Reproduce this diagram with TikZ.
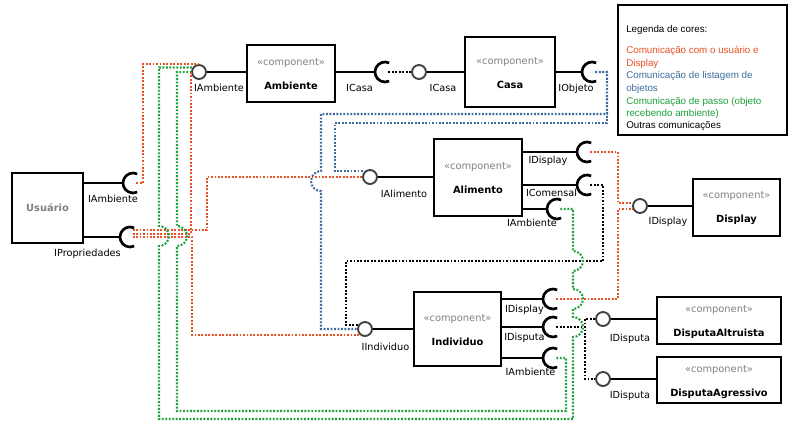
\documentclass[tikz,border=0pt]{standalone}
\usepackage{fontspec}
\setmainfont{DejaVu Sans}
\newfontfamily\legfont{Liberation Sans}
\definecolor{cred}{RGB}{232,80,36}
\definecolor{cblue}{RGB}{62,108,160}
\definecolor{cgreen}{RGB}{30,160,60}
\definecolor{cgray}{RGB}{128,128,128}
\definecolor{cring}{RGB}{64,64,64}
\newcommand\sockarc[1]{\draw[sock] ([shift={(65:7.5pt)}]#1) arc[start angle=65,end angle=295,radius=7.5pt];}
\begin{document}
\begin{tikzpicture}[x=0.75pt,y=-0.75pt,
 comp/.style={draw=black, line width=1.5pt, fill=white, inner sep=0pt},
 stereo/.style={text=cgray, font=\fontsize{7.4}{9}\selectfont, inner sep=0pt, anchor=base},
 cname/.style={font=\bfseries\fontsize{7.4}{9}\selectfont, inner sep=0pt, anchor=base},
 prov/.style={circle, draw=cring, line width=1.4pt, fill=white, minimum size=10.5pt, inner sep=0pt},
 lab/.style={font=\fontsize{7.3}{9}\selectfont, inner sep=0pt, anchor=base},
 stem/.style={line width=1.5pt},
 sock/.style={line width=2pt},
 dotl/.style={line width=1.6pt, dash pattern=on 1.4pt off 1.2pt},
 rdot/.style={dotl, draw=cred},
 bdot/.style={dotl, draw=cblue},
 gdot/.style={dotl, draw=cgreen},
 kdot/.style={dotl, draw=black},
 leg/.style={font=\legfont\fontsize{7.35}{9}\selectfont, inner sep=0pt, anchor=base west}
]
\fill[white] (0,0) rectangle (794,447);
\useasboundingbox (0,0) rectangle (794,447);

% components
\node[comp, minimum width=53.25pt, minimum height=52.5pt] (usr) at (47.5,208) {};
\node[cname, text=cgray] (usrname) at (47.5,211.5) {Usuário};

\node[comp, minimum width=66pt, minimum height=42.75pt] (amb) at (291,73.5) {};
\node[stereo] (ambs) at ([yshift=6pt]amb.center) {«component»};
\node[cname] (ambn) at ([yshift=-12pt]amb.center) {Ambiente};

\node[comp, minimum width=67.5pt, minimum height=52.5pt] (casa) at (510,72) {};
\node[stereo] (casas) at ([yshift=6pt]casa.center) {«component»};
\node[cname] (casan) at ([yshift=-12pt]casa.center) {Casa};

\node[comp, minimum width=66pt, minimum height=57.75pt] (ali) at (478,177.5) {};
\node[stereo] (alis) at ([yshift=6pt]ali.center) {«component»};
\node[cname] (alin) at ([yshift=-12pt]ali.center) {Alimento};

\node[comp, minimum width=65.25pt, minimum height=42.75pt] (disp) at (736.5,207.5) {};
\node[stereo] (disps) at ([yshift=6.5pt]disp.center) {«component»};
\node[cname] (dispn) at ([yshift=-11.5pt]disp.center) {Display};

\node[comp, minimum width=65.25pt, minimum height=55.5pt] (ind) at (457.5,329) {};
\node[stereo] (inds) at ([yshift=6pt]ind.center) {«component»};
\node[cname] (indn) at ([yshift=-12pt]ind.center) {Individuo};

\node[comp, minimum width=93pt, minimum height=35.25pt] (alt) at (719,320.5) {};
\node[stereo] (alts) at ([yshift=6pt]alt.center) {«component»};
\node[cname] (altn) at ([yshift=-12pt]alt.center) {DisputaAltruista};

\node[comp, minimum width=93pt, minimum height=34.5pt] (agr) at (719,380) {};
\node[stereo] (agrs) at ([yshift=6pt]agr.center) {«component»};
\node[cname] (agrn) at ([yshift=-12pt]agr.center) {DisputaAgressivo};

% provided interfaces
\node[prov] (cAmb) at (199,72) {};
\node[prov] (cCasa) at (419,72) {};
\node[prov] (cAli) at (370,177) {};
\node[prov] (cDisp) at (640,206) {};
\node[prov] (cInd) at (365,329) {};
\node[prov] (cAlt) at (603,319) {};
\node[prov] (cAgr) at (603,379) {};

% required interfaces (socket centres)
\coordinate (sUA) at (133,183);
\coordinate (sUP) at (130,237);
\coordinate (sAC) at (385,72);
\coordinate (sCO) at (592,72);
\coordinate (sAD) at (587,152);
\coordinate (sACo) at (587,185);
\coordinate (sAA) at (557,209);
\coordinate (sID) at (553,299);
\coordinate (sIDp) at (553,327);
\coordinate (sIA) at (553,358);

% stems
\draw[stem] (usr.east |- sUA) -- ([xshift=-7.5pt]sUA);
\draw[stem] (usr.east |- sUP) -- ([xshift=-7.5pt]sUP);
\draw[stem] (cAmb.east) -- (amb.west |- cAmb);
\draw[stem] (amb.east |- sAC) -- ([xshift=-7.5pt]sAC);
\draw[stem] (cCasa.east) -- (casa.west |- cCasa);
\draw[stem] (casa.east |- sCO) -- ([xshift=-7.5pt]sCO);
\draw[stem] (cAli.east) -- (ali.west |- cAli);
\draw[stem] (ali.east |- sAD) -- ([xshift=-7.5pt]sAD);
\draw[stem] (ali.east |- sACo) -- ([xshift=-7.5pt]sACo);
\draw[stem] (ali.east |- sAA) -- ([xshift=-7.5pt]sAA);
\draw[stem] (cDisp.east) -- (disp.west |- cDisp);
\draw[stem] (cInd.east) -- (ind.west |- cInd);
\draw[stem] (ind.east |- sID) -- ([xshift=-7.5pt]sID);
\draw[stem] (ind.east |- sIDp) -- ([xshift=-7.5pt]sIDp);
\draw[stem] (ind.east |- sIA) -- ([xshift=-7.5pt]sIA);
\draw[stem] (cAlt.east) -- (alt.west |- cAlt);
\draw[stem] (cAgr.east) -- (agr.west |- cAgr);

\sockarc{sUA}\sockarc{sUP}\sockarc{sAC}\sockarc{sCO}\sockarc{sAD}
\sockarc{sACo}\sockarc{sAA}\sockarc{sID}\sockarc{sIDp}\sockarc{sIA}

% labels
\node[lab] at (113,202.5) {IAmbiente};
\node[lab] at (87.5,256.5) {IPropriedades};
\node[lab] at (219,91.5) {IAmbiente};
\node[lab] at (359.5,91.5) {ICasa};
\node[lab] at (443,91.5) {ICasa};
\node[lab] at (576,91.5) {IObjeto};
\node[lab] at (404,197.5) {IAlimento};
\node[lab] at (548,163.5) {IDisplay};
\node[lab] at (551.5,196.5) {IComensal};
\node[lab] at (532,226.5) {IAmbiente};
\node[lab] at (668,224.5) {IDisplay};
\node[lab] at (385.5,350.5) {IIndividuo};
\node[lab] at (524.5,312.5) {IDisplay};
\node[lab] at (524.5,340.5) {IDisputa};
\node[lab] at (530.5,375.5) {IAmbiente};
\node[lab] at (630,341.5) {IDisputa};
\node[lab] at (630,398) {IDisputa};

% red connectors
\draw[rdot] ([xshift=2.5pt]sUA) -- (143,183) |- (cAmb.north);
\draw[rdot] ([shift={(2pt,5pt)}]sUP) -| (207,177) -- (cAli.west);
\draw[rdot] ([shift={(2pt,2.5pt)}]sUP) -| (cAmb.west);
\draw[rdot] ([xshift=2pt]sUP) -- (192,237) |- (cInd.south west);
\draw[rdot] ([xshift=2.5pt]sAD) -- (618,152) |- (cDisp.160);
\draw[rdot] ([xshift=2.5pt]sID) -- (618,299) |- (cDisp.200);

% blue connectors
\draw[bdot] ([xshift=2.5pt]sCO) -- (607,72) -- (607,114) -- (321,114) -- (321,171)
  arc[start angle=90,end angle=270,radius=7.5pt] |- (cInd.west);
\draw[bdot] ([xshift=2.5pt]sCO) -- (607,72) -- (607,123) -- (335,123) |- (cAli.135);

% black connectors
\draw[kdot] ([xshift=2.5pt]sAC) -- (cCasa.west);
\draw[kdot] ([xshift=2.5pt]sACo) -- (603,185) -- (603,261) -- (346,261) |- (cInd.150);
\draw[kdot] ([xshift=2.5pt]sIDp) -- (585,327) |- (cAlt.west);
\draw[kdot] ([xshift=2.5pt]sIDp) -- (585,327) |- (cAgr.west);

% green connectors
\draw[gdot] ([xshift=2.5pt]sAA) -- (573,209) -- (573,251)
  arc[start angle=90,end angle=-90,radius=7.5pt] -- (573,289)
  arc[start angle=90,end angle=-90,radius=7.5pt] -- (573,317)
  arc[start angle=90,end angle=-90,radius=7.5pt] -- (573,419) -- (159,419) -- (159,246)
  arc[start angle=-90,end angle=90,radius=7.5pt] |- (cAmb.145);
\draw[gdot] ([xshift=2.5pt]sIA) -- (566,358) -- (566,411) -- (177,411) -- (177,246)
  arc[start angle=-90,end angle=90,radius=7.5pt] |- (cAmb.west);

% legend
\node[draw=black, line width=0.8pt, minimum width=126.75pt, minimum height=97.5pt, inner sep=0pt] (legend) at (702.5,70) {};
\node[leg] (l0) at (626,32.5) {Legenda de cores:};
\node[leg, text=cred] (l1) at (626,53.5) {Comunicação com o usuário e};
\node[leg, text=cred] (l2) at (626,66) {Display};
\node[leg, text=cblue] (l3) at (626,78.7) {Comunicação de listagem de};
\node[leg, text=cblue] (l4) at (626,91.3) {objetos};
\node[leg, text=cgreen] (l5) at (626,104) {Comunicação de passo (objeto};
\node[leg, text=cgreen] (l6) at (626,116.5) {recebendo ambiente)};
\node[leg] (l7) at (626,128.5) {Outras comunicações};
\end{tikzpicture}
\end{document}
